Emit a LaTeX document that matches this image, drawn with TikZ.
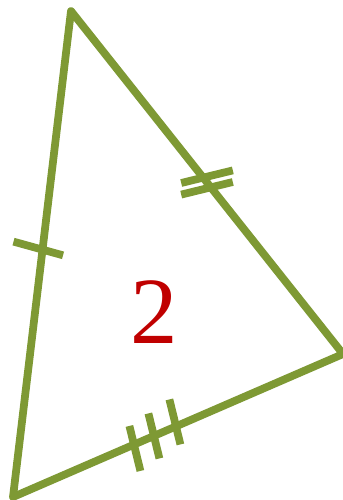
\documentclass[tikz,border=0pt]{standalone}
\usepackage{fontspec}
\setmainfont{Liberation Serif}
\usepackage{xcolor}
\usepackage{tikz}
\usetikzlibrary{positioning, calc}

\definecolor{olive}{RGB}{126,153,52}
\definecolor{darkred}{RGB}{192,0,0}

\begin{document}
\begin{tikzpicture}[x=0.02cm, y=-0.02cm,
    edgeline/.style={draw=olive, line width=0.155cm, line join=round},
    tickline/.style={draw=olive, line width=0.155cm}]
      \useasboundingbox (0, 0) rectangle (342, 500);

      % corners of the triangle
      \coordinate (apex) at (71, 11);
      \coordinate (foot) at (13, 497);
      \coordinate (tip) at (343, 354);
      \draw[edgeline] (apex) -- (foot) -- (tip) -- cycle;

      % one tick on the left side
      \coordinate (lmid) at ($(apex)!0.491!(foot)$);
      \draw[tickline] ($(lmid)+(-29, -8)$) -- ($(lmid)+(20.5, 5.7)$);

      % two ticks on the right side
      \coordinate (rmid) at ($(apex)!0.5!(tip)$);
      \draw[tickline] ($(rmid)+(-25.8, 0.5)$) -- ($(rmid)+(25.8, -12.1)$);
      \draw[tickline] ($(rmid)+(-25.8, 12.1)$) -- ($(rmid)+(25.8, -0.5)$);

      % three ticks on the bottom side
      \coordinate (bmid) at ($(foot)!0.427!(tip)$);
      \foreach \dx/\dy in {-19/12.5, 0/0, 21/-14}
        \draw[tickline] ($(bmid)+(\dx, \dy)+(-5.5, -22.5)$) -- ($(bmid)+(\dx, \dy)+(5.5, 22.5)$);

      \node[text=darkred, font=\fontsize{54}{60}\selectfont] (num) at (154, 312) {2};
    \end{tikzpicture}
\end{document}
